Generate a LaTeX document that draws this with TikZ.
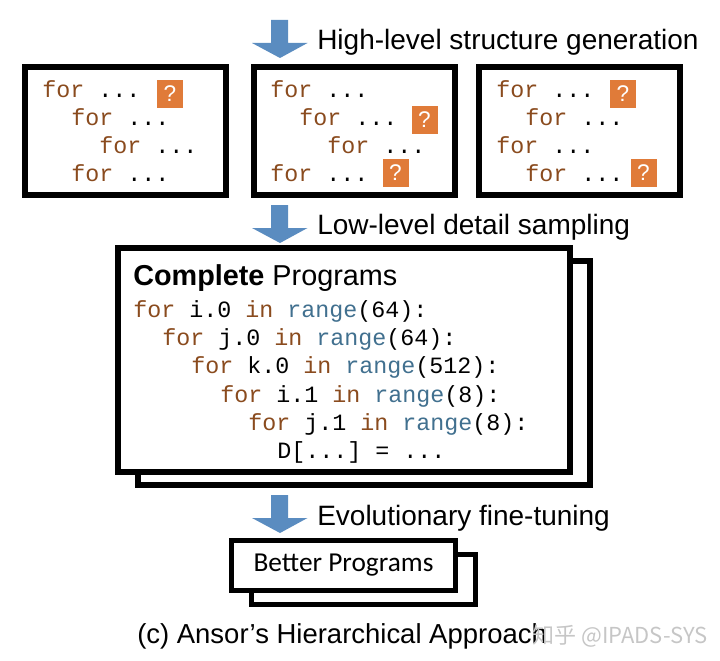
\documentclass[tikz,border=0pt]{standalone}
\usepackage{fontspec}
\setmainfont{Liberation Sans}
\setmonofont{Liberation Mono}
\newfontfamily\carlito{Carlito}
\newfontfamily\cjk{Noto Sans CJK SC}
\definecolor{kw}{HTML}{8A4B1E}
\definecolor{fn}{HTML}{41708F}
\definecolor{qbox}{HTML}{E07B39}
\definecolor{arrowblue}{HTML}{5A8CC0}
\newcommand\kwd[1]{\textcolor{kw}{#1}}
\newcommand\fnc[1]{\textcolor{fn}{#1}}
\begin{document}
\begin{tikzpicture}[x=0.75pt,y=-0.75pt,
  frame/.style={draw=black, line width=4.5pt, fill=white, inner sep=0pt},
  smallframe/.style={draw=black, line width=3.75pt, fill=white, inner sep=0pt,
    minimum width=168pt, minimum height=37.5pt},
  bigframe/.style={frame, minimum width=339pt, minimum height=168pt},
  topframe/.style={frame, minimum width=150.75pt, minimum height=96pt},
  code/.style={anchor=base west, inner sep=0pt, font=\ttfamily\fontsize{17.5pt}{20pt}\selectfont},
  qmark/.style={fill=qbox, text=white, minimum width=19.5pt, minimum height=21pt,
    inner sep=0pt, font=\fontsize{17pt}{17pt}\selectfont},
  steptext/.style={anchor=base west, inner sep=0pt, font=\fontsize{21pt}{24pt}\selectfont},
  downarrow/.pic={\fill[arrowblue] (-8.5,0) -- (8.5,0) -- (8.5,23) -- (28,23) -- (0.5,38)
      -- (-27.5,23) -- (-8.5,23) -- cycle;}]
\useasboundingbox (0,0) rectangle (720,660);

% ---- step 1
\pic at (279.5,20) {downarrow};
\node[steptext] (t1) at (317,50) {High-level structure generation};

\node[topframe] (box1) at (125.5,131) {};
\node[topframe] (box2) at (354.5,131) {};
\node[topframe] (box3) at (579,131) {};

% box 1
\node[code] (a1) at (42,97) {\kwd{for} ...};
\node[code] (a2) at (71,125) {\kwd{for} ...};
\node[code] (a3) at (99,153) {\kwd{for} ...};
\node[code] (a4) at (71,181) {\kwd{for} ...};
\node[qmark] (q1) at (170,94) {?};
% box 2
\node[code] (b1) at (270,97) {\kwd{for} ...};
\node[code] (b2) at (299,125) {\kwd{for} ...};
\node[code] (b3) at (327,153) {\kwd{for} ...};
\node[code] (b4) at (270,181) {\kwd{for} ...};
\node[qmark] (q2) at (424.5,119.5) {?};
\node[qmark] (q3) at (395.5,173) {?};
% box 3
\node[code] (c1) at (496,97) {\kwd{for} ...};
\node[code] (c2) at (525,125) {\kwd{for} ...};
\node[code] (c3) at (496,153) {\kwd{for} ...};
\node[code] (c4) at (525,181) {\kwd{for} ...};
\node[qmark] (q4) at (623,94) {?};
\node[qmark] (q5) at (643.5,173) {?};

% ---- step 2
\pic at (279.5,205) {downarrow};
\node[steptext] (t2) at (317,234) {Low-level detail sampling};

\node[bigframe] (progback) at (364,373) {};
\node[bigframe] (progfront) at (344,360) {};
\node[steptext, font=\fontsize{21.6pt}{24pt}\selectfont] (ptitle) at (133,285)
  {\textbf{Complete} Programs};
\node[code] (p1) at (133,317) {\kwd{for} i.0 \kwd{in} \fnc{range}(64):};
\node[code] (p2) at (162,345) {\kwd{for} j.0 \kwd{in} \fnc{range}(64):};
\node[code] (p3) at (191,373) {\kwd{for} k.0 \kwd{in} \fnc{range}(512):};
\node[code] (p4) at (220,402) {\kwd{for} i.1 \kwd{in} \fnc{range}(8):};
\node[code] (p5) at (248,430) {\kwd{for} j.1 \kwd{in} \fnc{range}(8):};
\node[code] (p6) at (277,458) {D[...] = ...};

% ---- step 3
\pic at (279.5,495) {downarrow};
\node[steptext] (t3) at (317,525) {Evolutionary fine-tuning};

\node[smallframe] (betterback) at (363.5,579.5) {};
\node[smallframe, font=\carlito\fontsize{20.5pt}{24pt}\selectfont] (better) at (343.5,565.5)
  {Better Programs};

% ---- caption
\node[steptext, font=\fontsize{20.6pt}{24pt}\selectfont] (cap) at (137,643)
  {(c) Ansor’s Hierarchical Approach};
\node[anchor=base west, inner sep=0pt, text=gray!45,
  font=\cjk\fontsize{16.5pt}{20pt}\selectfont] (wm) at (532,643) {知乎 @IPADS-SYS};
\end{tikzpicture}
\end{document}
